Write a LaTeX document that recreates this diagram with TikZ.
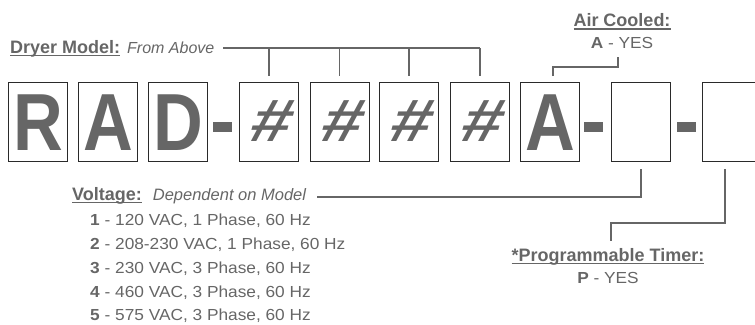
\documentclass[tikz,border=0pt]{standalone}
\usepackage{fontspec}
\setmainfont{Liberation Sans}
\newfontfamily\bigfnt[FakeStretch=0.85]{Liberation Sans}
\newfontfamily\bodyfnt[FakeStretch=1.08]{Liberation Sans}
\newfontfamily\hashfnt[FakeSlant=0.28,FakeStretch=1.2]{Liberation Sans}
\definecolor{tg}{HTML}{666666}
\definecolor{bx}{HTML}{2A2A2A}
\newcommand\myul[1]{\setbox0=\hbox{#1}\rlap{\rule[-2.6pt]{\wd0}{1.1pt}}\box0}
\tikzset{
  cbox/.style={draw=bx, line width=1pt, minimum width=59pt, minimum height=79pt, inner sep=0pt},
  letter/.style={text=tg, inner sep=0pt, anchor=base, font=\bigfnt\bfseries\fontsize{81}{81}\selectfont},
  hashsym/.style={text=tg, inner sep=0pt, font=\hashfnt\bfseries\fontsize{60}{60}\selectfont},
  dashbox/.style={fill=tg, minimum width=19pt, minimum height=9.5pt, inner sep=0pt},
  conn/.style={draw=tg, line width=1.6pt},
  lbl/.style={text=tg, inner sep=0pt},
  lfont/.style={font=\fontsize{18}{20}\selectfont\bfseries},
  bfont/.style={font=\bodyfnt\fontsize{16}{18}\selectfont}
}
\begin{document}
\begin{tikzpicture}[x=1pt,y=-1pt]
\useasboundingbox (0,0) rectangle (755,324);
% boxes
\node[cbox] (b1) at (38,122) {};
\node[cbox] (b2) at (108,122) {};
\node[cbox] (b3) at (178,122) {};
\node[cbox] (b4) at (269,122) {};
\node[cbox] (b5) at (339.5,122) {};
\node[cbox] (b6) at (409,122) {};
\node[cbox] (b7) at (480,122) {};
\node[cbox] (b8) at (550,122) {};
\node[cbox] (b9) at (641,122) {};
\node[cbox] (b10) at (732,122) {};
% letters
\node[letter] (lR) at (38,150) {R};
\node[letter] (lA) at (108,150) {A};
\node[letter] (lD) at (178,150) {D};
\node[letter] (lA2) at (550,150) {A};
\node[hashsym] (h1) at (268,121) {\#};
\node[hashsym] (h2) at (338.5,121) {\#};
\node[hashsym] (h3) at (408,121) {\#};
\node[hashsym] (h4) at (479,121) {\#};
% dashes
\node[dashbox] (d1) at (222.5,127.2) {};
\node[dashbox] (d2) at (593.5,127.2) {};
\node[dashbox] (d3) at (686,127.2) {};
% Dryer model
\node[lbl, anchor=base west] (dmlab) at (10,53) {{\fontsize{18}{20}\selectfont\myul{\textbf{Dryer Model:}}}\hspace{7pt}{\fontsize{16}{18}\selectfont\itshape From Above}};
\coordinate (dm) at (223,48);
\draw[conn] (dm) -- (dm -| b7.north);
\foreach \b in {b4,b5,b6,b7} \draw[conn] (dm -| \b.north) -- ([yshift=6pt]\b.north);
% Air cooled
\node[lbl, lfont, anchor=base] (aclab) at (622,27) {\myul{Air Cooled:}};
\node[lbl, anchor=base, font=\bodyfnt\fontsize{16}{18}\selectfont] (acyes) at (622,48) {\textbf{A} - YES};
\coordinate (acend) at (618,57);
\draw[conn] ([xshift=3pt,yshift=6pt]b8.north) |- (0,67 -| acend) -- (acend);
% Voltage
\node[lbl, anchor=base west] (vlab) at (72,200) {{\fontsize{18}{20}\selectfont\myul{\textbf{Voltage:}}}\hspace{11pt}{\fontsize{16.5}{18}\selectfont\itshape Dependent on Model}};
\coordinate (vl) at (317,197);
\draw[conn] (vl) -| ([yshift=-7pt]b9.south);
\node[lbl, bfont, anchor=base west] (v1) at (90,225) {\textbf{1} - 120 VAC, 1 Phase, 60 Hz};
\node[lbl, bfont, anchor=base west] (v2) at (90,249) {\textbf{2} - 208-230 VAC, 1 Phase, 60 Hz};
\node[lbl, bfont, anchor=base west] (v3) at (90,273) {\textbf{3} - 230 VAC, 3 Phase, 60 Hz};
\node[lbl, bfont, anchor=base west] (v4) at (90,297) {\textbf{4} - 460 VAC, 3 Phase, 60 Hz};
\node[lbl, bfont, anchor=base west] (v5) at (90,320) {\textbf{5} - 575 VAC, 3 Phase, 60 Hz};
% Timer
\node[lbl, lfont, anchor=base] (tlab) at (608,261) {\myul{*Programmable Timer:}};
\node[lbl, bfont, anchor=base] (tyes) at (608,283) {\textbf{P} - YES};
\coordinate (tend) at (611,241);
\draw[conn] ([xshift=-7pt,yshift=-7pt]b10.south) |- (tend |- 0,223) -- (tend);
\end{tikzpicture}
\end{document}
